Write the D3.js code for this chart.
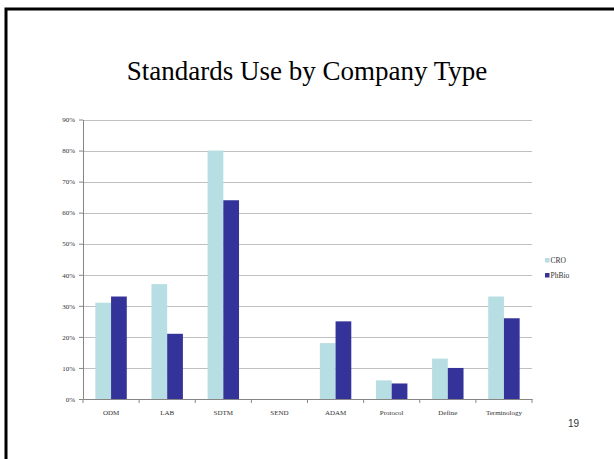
<!DOCTYPE html>
<html>
<head>
<meta charset="utf-8">
<script src="https://cdn.jsdelivr.net/npm/d3@7"></script>
<style>
  body { margin: 0; background: #fff; }
</style>
</head>
<body>
<div id="chart"></div>
<script>
var categories = ["ODM", "LAB", "SDTM", "SEND", "ADAM", "Protocol", "Define", "Terminology"];
var seriesNames = ["CRO", "PhBio"];
var croValues = [0.31, 0.37, 0.80, 0, 0.18, 0.06, 0.13, 0.33];
var phbioValues = [0.33, 0.21, 0.64, 0, 0.25, 0.05, 0.10, 0.26];
var yTicks = [0, 0.1, 0.2, 0.3, 0.4, 0.5, 0.6, 0.7, 0.8, 0.9];
var colors = ["#b7dee2", "#333399"];

var W = 614, H = 459;

var svg = d3.select("#chart")
  .append("svg")
    .attr("width", W)
    .attr("height", H);

// slide frame
svg.append("path")
  .attr("d", "M6," + H + " V9 H" + W)
  .attr("fill", "none")
  .attr("stroke", "#000")
  .attr("stroke-width", 3);

svg.append("text")
  .text("Standards Use by Company Type")
  .attr("x", 307)
  .attr("y", 80)
  .attr("text-anchor", "middle")
  .style("font-family", "Liberation Serif, Times New Roman, serif")
  .style("font-size", "27px")
  .style("fill", "#000");

svg.append("text")
  .text("19")
  .attr("x", 579)
  .attr("y", 427)
  .attr("text-anchor", "end")
  .style("font-family", "Liberation Sans, Arial, sans-serif")
  .style("font-size", "10px")
  .style("fill", "#333");

var plotLeft = 83, plotRight = 532, plotTop = 119.5, plotBottom = 399;

var x = d3.scaleBand()
  .domain(categories)
  .range([plotLeft, plotRight])
  .paddingInner(0.44)
  .paddingOuter(0.22);

var xs = d3.scaleBand()
  .domain(seriesNames)
  .range([0, x.bandwidth()]);

var y = d3.scaleLinear()
  .domain([0, 0.9])
  .range([plotBottom, plotTop]);

// gridlines
svg.append("g")
  .selectAll("line")
  .data(yTicks.slice(1))
  .enter()
  .append("line")
    .attr("x1", plotLeft)
    .attr("x2", plotRight)
    .attr("y1", function(d){ return Math.round(y(d)) + 0.5; })
    .attr("y2", function(d){ return Math.round(y(d)) + 0.5; })
    .attr("stroke", "#c0c0c0")
    .attr("stroke-width", 1);

// bars
var rows = categories.map(function(c, i){
  return { cat: c, values: [croValues[i], phbioValues[i]] };
});

var groups = svg.append("g")
  .selectAll("g")
  .data(rows)
  .enter()
  .append("g")
    .attr("transform", function(d){ return "translate(" + x(d.cat) + ",0)"; });

groups.selectAll("rect")
  .data(function(d){ return d.values.map(function(v, j){ return { s: seriesNames[j], v: v, j: j }; }); })
  .enter()
  .append("rect")
    .attr("x", function(d){ return xs(d.s); })
    .attr("y", function(d){ return y(d.v); })
    .attr("width", xs.bandwidth())
    .attr("height", function(d){ return plotBottom - y(d.v); })
    .attr("fill", function(d){ return colors[d.j]; });

// y axis
var yAxis = svg.append("g")
  .attr("transform", "translate(" + plotLeft + ",0)")
  .call(d3.axisLeft(y).tickValues(yTicks).tickFormat(d3.format(".0%")).tickSize(4).tickSizeOuter(0));

yAxis.select(".domain").attr("stroke", "#868686");
yAxis.selectAll(".tick line").attr("stroke", "#868686");
yAxis.selectAll("text")
  .attr("x", -8)
  .style("font-family", "Liberation Serif, Times New Roman, serif")
  .style("font-size", "7px")
  .style("fill", "#333");

// x axis
var step = x.step();
var xAxis = svg.append("g")
  .attr("transform", "translate(0," + plotBottom + ")")
  .call(d3.axisBottom(x).tickSize(0).tickSizeOuter(0));

xAxis.select(".domain").attr("stroke", "#868686");
xAxis.selectAll("text")
  .attr("dy", "0")
  .attr("y", 16)
  .style("font-family", "Liberation Serif, Times New Roman, serif")
  .style("font-size", "7px")
  .style("fill", "#333");

// category dividers on x axis
svg.append("g")
  .selectAll("line")
  .data(d3.range(categories.length + 1))
  .enter()
  .append("line")
    .attr("x1", function(i){ return plotLeft + i * step; })
    .attr("x2", function(i){ return plotLeft + i * step; })
    .attr("y1", plotBottom)
    .attr("y2", plotBottom + 4)
    .attr("stroke", "#868686");

// legend
var legend = svg.append("g")
  .selectAll("g")
  .data(seriesNames)
  .enter()
  .append("g")
    .attr("transform", function(d, i){ return "translate(545," + (258 + i * 15) + ")"; });

legend.append("rect")
  .attr("width", 4.5)
  .attr("height", 4.5)
  .attr("fill", function(d, i){ return colors[i]; });

legend.append("text")
  .text(function(d){ return d; })
  .attr("x", 5.5)
  .attr("y", 5)
  .style("font-family", "Liberation Serif, Times New Roman, serif")
  .style("font-size", "7.5px")
  .style("fill", "#333");
</script>
</body>
</html>
